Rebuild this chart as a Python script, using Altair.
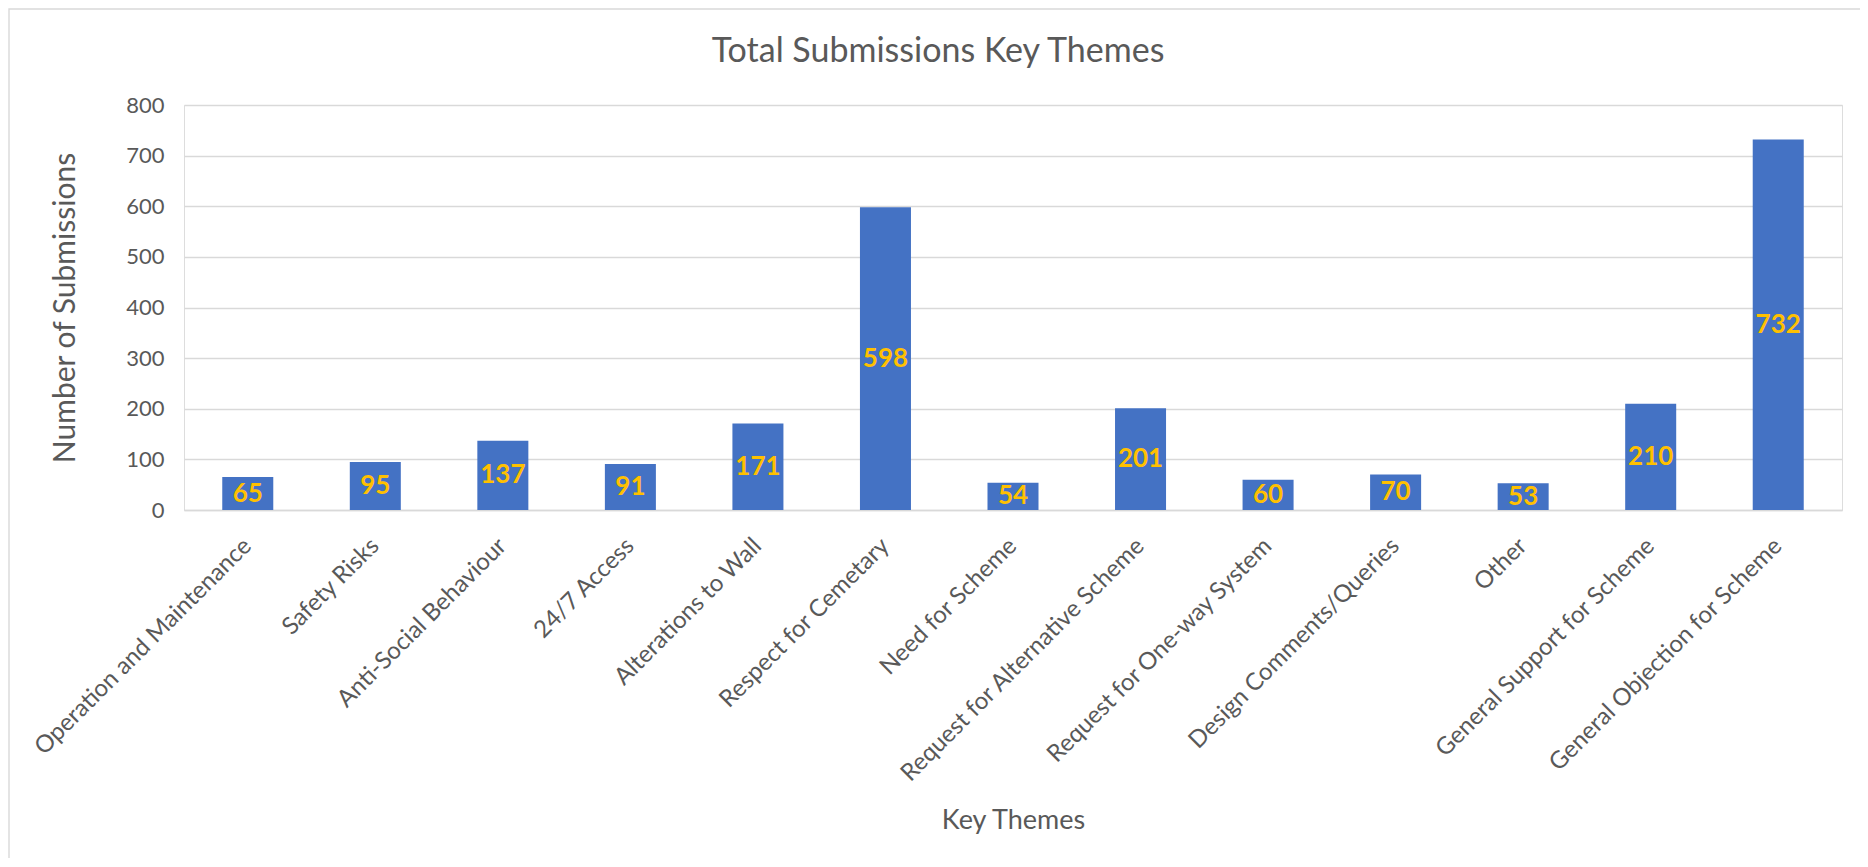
import altair as alt
import pandas as pd

categories = [
    "Operation and Maintenance", "Safety Risks", "Anti-Social Behaviour",
    "24/7 Access", "Alterations to Wall", "Respect for Cemetary",
    "Need for Scheme", "Request for Alternative Scheme",
    "Request for One-way System", "Design Comments/Queries", "Other",
    "General Support for Scheme", "General Objection for Scheme",
]
values = [65, 95, 137, 91, 171, 598, 54, 201, 60, 70, 53, 210, 732]
y_ticks = [0, 100, 200, 300, 400, 500, 600, 700, 800]

df = pd.DataFrame({"theme": categories, "count": values})

FONT = "Lato"
GRAY = "#595959"
GRID = "#d9d9d9"
PLOT_W, PLOT_H = 1658, 405

x_enc = alt.X(
    "theme:N",
    sort=categories,
    scale=alt.Scale(paddingInner=0.6, paddingOuter=0.3),
    axis=alt.Axis(
        title="Key Themes",
        labelAngle=-45,
        labelAlign="right",
        labelBaseline="middle",
        labelPadding=32,
        labelFontSize=24,
        labelColor=GRAY,
        labelFont=FONT,
        ticks=False,
        domainColor=GRID,
        domainWidth=1.3,
        grid=False,
        titleFontSize=27,
        titleFont=FONT,
        titleFontWeight="normal",
        titleColor=GRAY,
        titleX=PLOT_W / 2,
        titleY=310,
        titleBaseline="middle",
        titleAlign="center",
        labelOverlap=False,
        labelLimit=0,
    ),
)

y_enc = alt.Y(
    "count:Q",
    scale=alt.Scale(domain=[0, 800], nice=False),
    axis=alt.Axis(
        title="Number of Submissions",
        values=y_ticks,
        labelFontSize=22,
        labelColor=GRAY,
        labelFont=FONT,
        labelPadding=20,
        ticks=False,
        domain=False,
        gridColor=GRID,
        gridWidth=1.3,
        titleFontSize=30,
        titleFont=FONT,
        titleFontWeight="normal",
        titleColor=GRAY,
        titleX=-119,
        titleY=PLOT_H / 2,
        titleAngle=-90,
        titleBaseline="middle",
        titleAlign="center",
    ),
)

base = alt.Chart(df)

bars = base.mark_bar(color="#4472C4").encode(x=x_enc, y=y_enc)

labels = base.transform_calculate(half="datum.count / 2").mark_text(
    color="#FFC000", fontWeight="bold", fontSize=26, font=FONT, baseline="middle"
).encode(
    x=alt.X("theme:N", sort=categories),
    y=alt.Y("half:Q"),
    text=alt.Text("count:Q"),
)

frame = alt.Chart(pd.DataFrame({"k": [0]})).mark_rect(
    fillOpacity=0, stroke=GRID, strokeWidth=1.4
).encode(
    x=alt.value(-175), x2=alt.value(PLOT_W + 100),
    y=alt.value(-96), y2=alt.value(PLOT_H + 400),
)

chart = alt.layer(frame, bars, labels).properties(
    width=PLOT_W,
    height=PLOT_H,
    title=alt.TitleParams(
        "Total Submissions Key Themes",
        font=FONT,
        fontSize=34,
        fontWeight="normal",
        color=GRAY,
        anchor="middle",
        dx=-75,
        offset=-61,
    ),
    autosize=alt.AutoSizeParams(type="none"),
    padding={"left": 176, "top": 97, "right": 18, "bottom": 348},
).configure_view(stroke=None).configure(background="white")

chart.save("out.html", embed_options={"renderer": "svg", "actions": False})
